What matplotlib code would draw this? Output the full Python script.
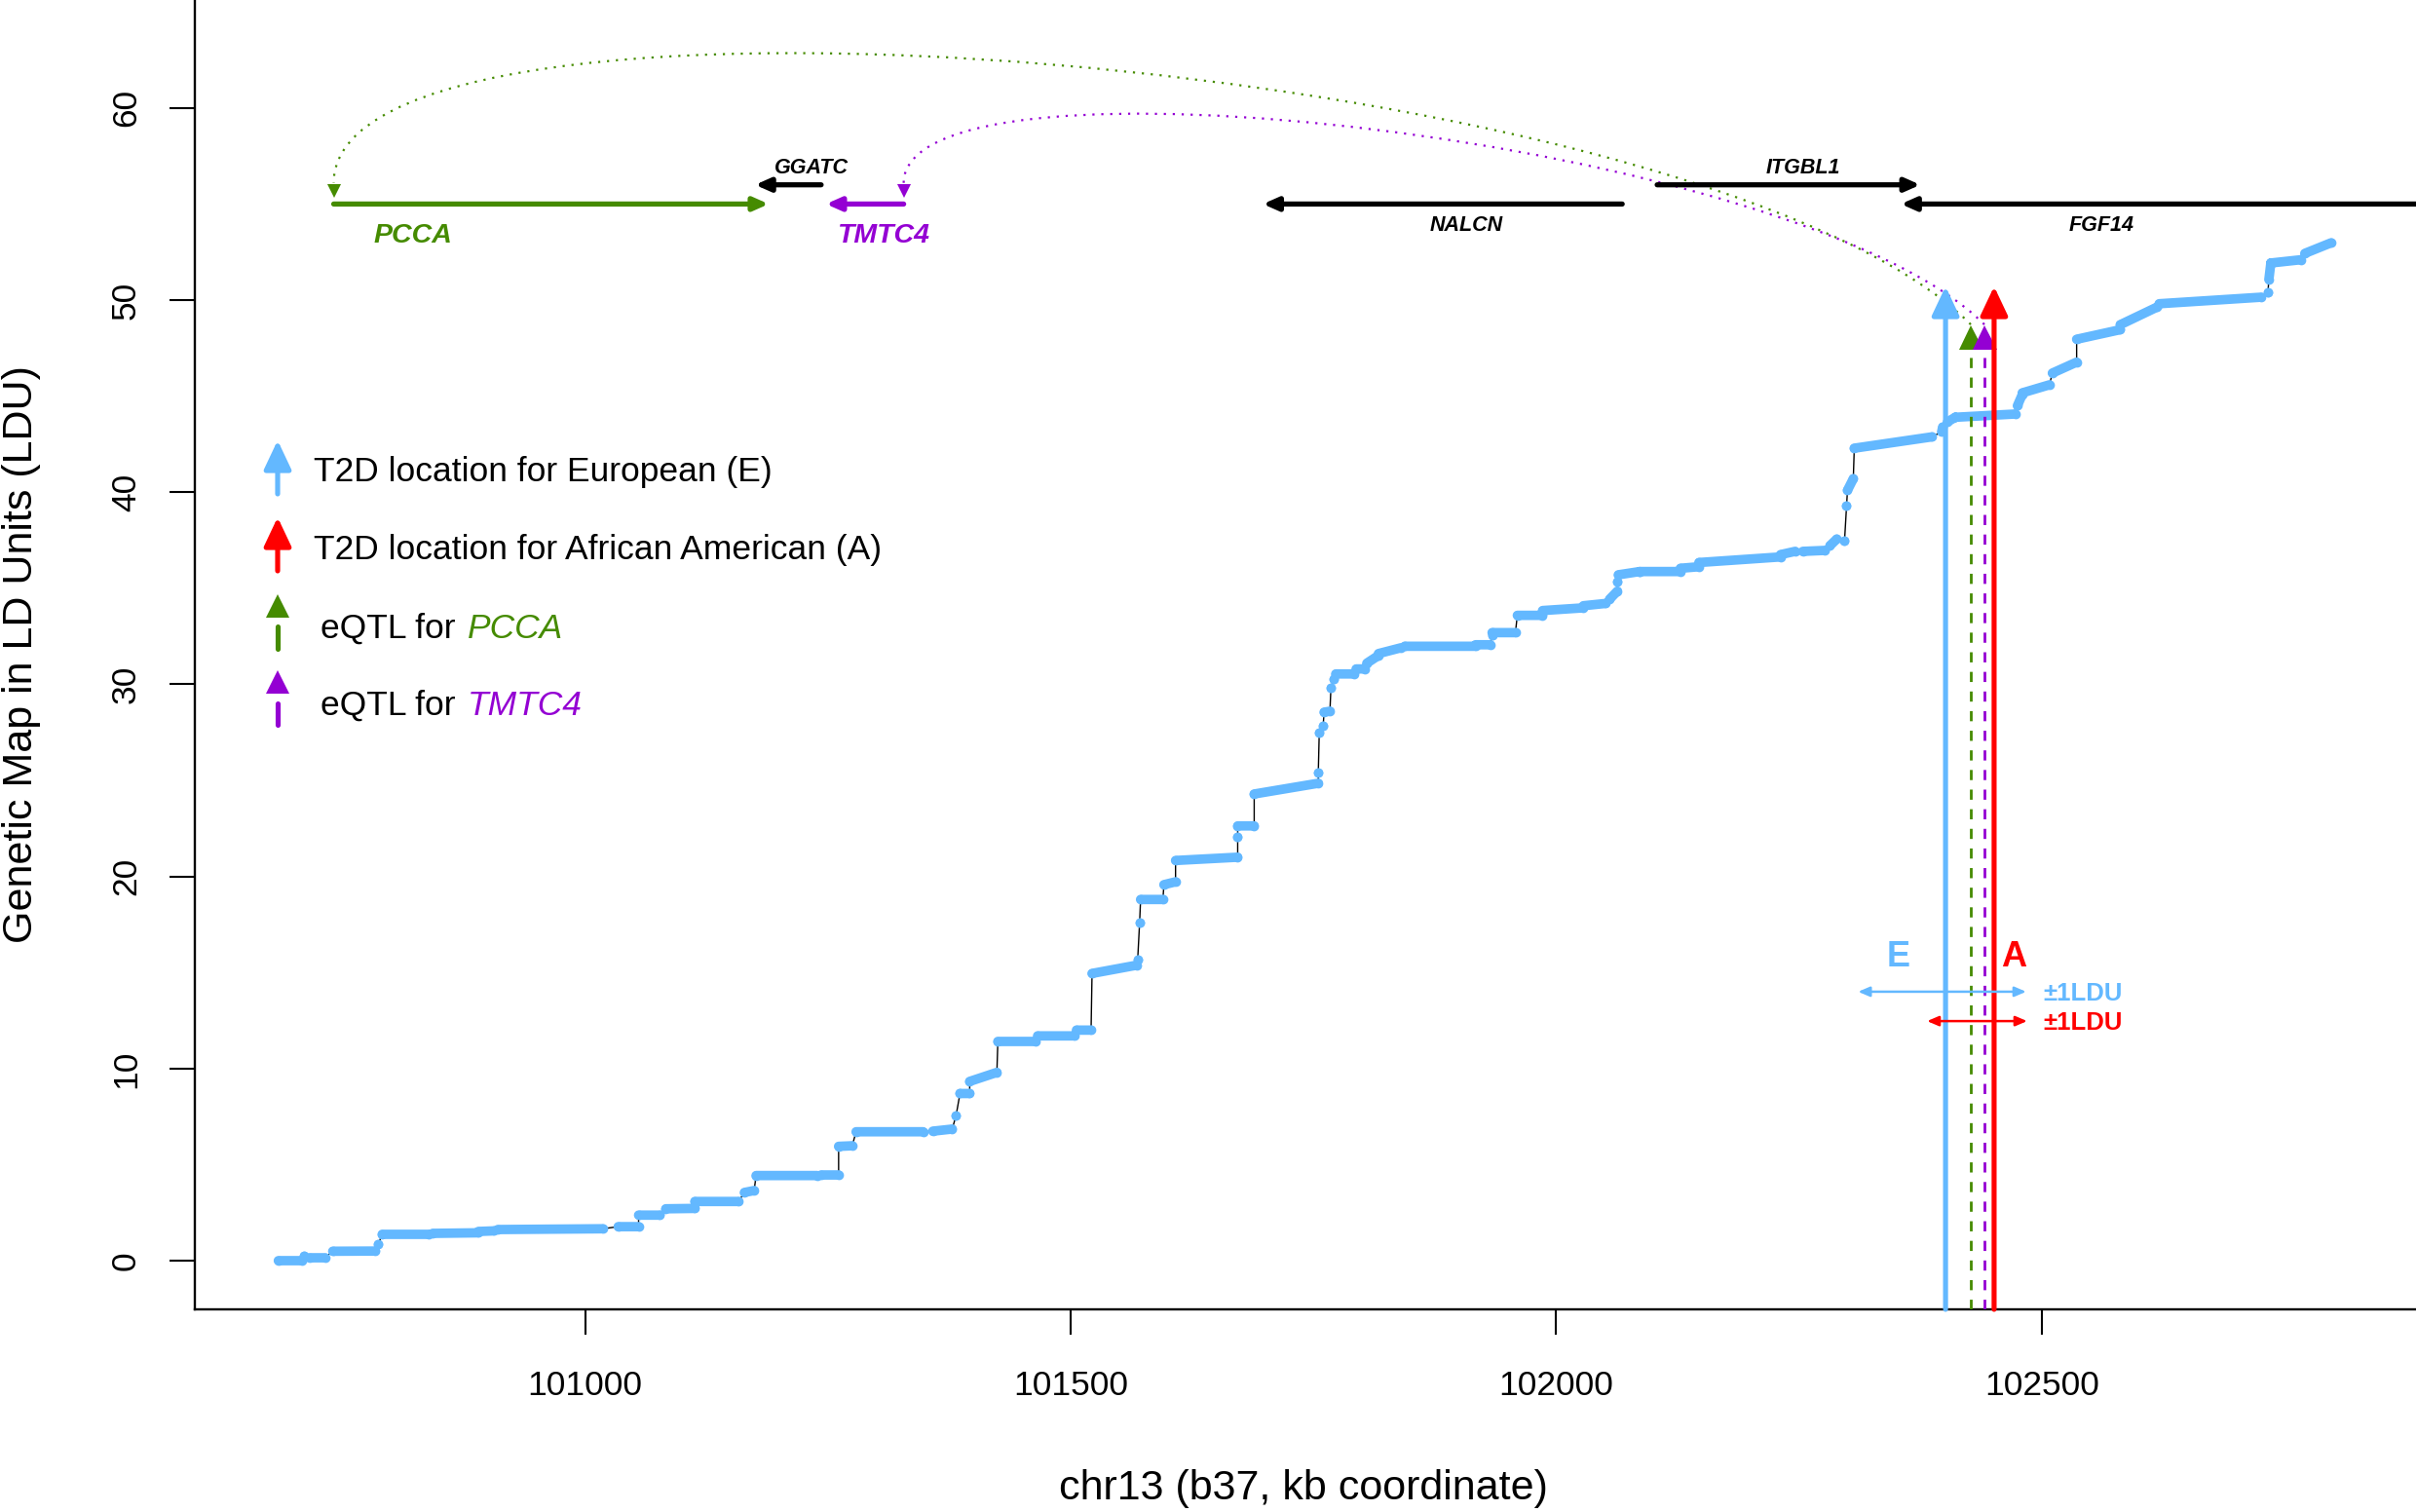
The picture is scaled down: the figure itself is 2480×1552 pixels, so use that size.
import numpy as np
import matplotlib
matplotlib.use('Agg')
import matplotlib.pyplot as plt
from matplotlib.path import Path
from matplotlib.patches import PathPatch
from matplotlib.lines import Line2D

plt.rcParams['font.family'] = ['Liberation Sans', 'DejaVu Sans']
plt.rcParams['lines.scale_dashes'] = False

# ---------------- data ----------------
# LD map: runs of dense SNPs (start kb, end kb, start LDU, end LDU)
seg_x0 = [100684, 100710, 100716, 100740, 100787, 100791, 100843, 100890, 100910, 101034,
          101055, 101083, 101113, 101164, 101176, 101243, 101261, 101279, 101358, 101382,
          101386, 101396, 101425, 101466, 101506, 101522, 101569, 101571, 101572, 101596,
          101608, 101672, 101672, 101689, 101755, 101756, 101760, 101761, 101768, 101771,
          101773, 101794, 101805, 101817, 101844, 101917, 101934, 101934, 101960, 101986,
          102028, 102055, 102063, 102064, 102086, 102128, 102147, 102231, 102254, 102282,
          102297, 102299, 102300, 102307, 102397, 102403, 102411, 102475, 102480, 102511,
          102536, 102581, 102621, 102733, 102734, 102736, 102771]
seg_x1 = [100708, 100710, 100732, 100784, 100787, 100839, 100890, 100906, 101018, 101055,
          101077, 101113, 101158, 101174, 101239, 101261, 101275, 101348, 101378, 101382,
          101396, 101424, 101464, 101504, 101521, 101568, 101569, 101571, 101595, 101608,
          101672, 101672, 101689, 101755, 101755, 101756, 101760, 101767, 101768, 101771,
          101792, 101803, 101817, 101840, 101917, 101932, 101934, 101958, 101986, 102028,
          102051, 102063, 102063, 102086, 102128, 102147, 102231, 102246, 102277, 102289,
          102297, 102299, 102306, 102387, 102398, 102411, 102473, 102480, 102508, 102536,
          102581, 102619, 102726, 102733, 102736, 102767, 102798]
seg_y0 = [0.00, 0.24, 0.15, 0.49, 0.88, 1.37, 1.42, 1.52, 1.62, 1.77,
          2.37, 2.70, 3.08, 3.55, 4.43, 4.46, 5.95, 6.71, 6.74, 7.56,
          8.70, 9.33, 11.41, 11.70, 12.00, 14.95, 15.67, 17.61, 18.80, 19.57,
          20.83, 22.04, 22.63, 24.29, 25.39, 27.50, 27.84, 28.55, 29.80, 30.29,
          30.54, 30.80, 31.10, 31.60, 31.98, 32.06, 32.57, 32.69, 33.59, 33.84,
          34.09, 34.43, 35.36, 35.70, 35.87, 36.04, 36.34, 36.75, 36.92, 37.22,
          37.50, 39.30, 40.10, 42.29, 43.14, 43.66, 43.90, 44.50, 45.17, 46.20,
          47.96, 48.72, 49.81, 50.41, 51.08, 51.93, 52.43]
seg_y1 = [0.00, 0.24, 0.15, 0.50, 0.88, 1.37, 1.45, 1.55, 1.66, 1.77,
          2.37, 2.72, 3.08, 3.65, 4.43, 4.46, 5.98, 6.71, 6.85, 7.56,
          8.70, 9.80, 11.41, 11.70, 12.00, 15.38, 15.67, 17.61, 18.80, 19.72,
          21.00, 22.04, 22.63, 24.85, 25.39, 27.50, 27.84, 28.60, 29.80, 30.29,
          30.54, 30.80, 31.50, 31.90, 31.98, 32.06, 32.57, 32.69, 33.59, 33.98,
          34.21, 34.85, 35.36, 35.87, 35.87, 36.12, 36.63, 36.92, 36.97, 37.56,
          37.50, 39.30, 40.70, 42.88, 43.39, 43.90, 44.07, 45.08, 45.59, 46.77,
          48.46, 49.64, 50.15, 50.41, 51.93, 52.10, 52.98]

# genes (kb)
gene_names  = ['PCCA', 'GGATC', 'TMTC4', 'NALCN', 'ITGBL1', 'FGF14']
gene_start  = [100741, 101175, 101248, 101698, 102104, 102355]
gene_end    = [101189, 101243, 101328, 102068, 102375, 102900]
gene_strand = ['+', '-', '-', '-', '+', '-']
gene_row    = [55.0, 56.0, 55.0, 55.0, 56.0, 55.0]
label_x     = [100823, 101233, 101308, 101907, 102254, 102562]
label_y     = [52.99, 56.59, 52.99, 53.6, 56.59, 53.6]

# association / eQTL locations (kb)
t2d_E = 102401
t2d_A = 102451
eqtl_PCCA = 102427
eqtl_TMTC4 = 102441
# +/- 1 LDU intervals (kb)
E_interval = (102311, 102484)
A_interval = (102382, 102485)

x_ticks = [101000, 101500, 102000, 102500]
y_ticks = [0, 10, 20, 30, 40, 50, 60]

legend_labels = ['T2D location for European (E)', 'T2D location for African American (A)',
                 'eQTL for', 'eQTL for']

# ---------------- style ----------------
BLUE = '#63B8FF'
RED = '#FF0000'
GREEN = '#458B00'
PURPLE = '#9400D3'
gene_colors = [GREEN, 'black', PURPLE, 'black', 'black', 'black']
gene_fs = [20.5, 15.5, 20.5, 15.5, 15.5, 15.5]

W, H = 2480, 1552
fig = plt.figure(figsize=(W / 100, H / 100), dpi=100)
ax = fig.add_axes([200 / W, 208 / H, 2280 / W, 1344 / H])
ylo, yhi = -2.535, 65.62
ax.set_xlim(100598, 102885.5)
ax.set_ylim(ylo, yhi)
for s in ['top', 'right']:
    ax.spines[s].set_visible(False)
for s in ['left', 'bottom']:
    ax.spines[s].set_linewidth(1.7)
ax.set_xticks(x_ticks)
ax.set_xticklabels([str(t) for t in x_ticks])
ax.set_yticks(y_ticks)
ax.set_yticklabels([str(t) for t in y_ticks])
ax.tick_params(axis='both', length=19, width=1.5, labelsize=25.5)
ax.tick_params(axis='x', pad=26)
ax.tick_params(axis='y', pad=20, labelrotation=90)
for lab in ax.get_yticklabels():
    lab.set_va('center')

fig.text(1338 / W, 1 - 1528 / H, 'chr13 (b37, kb coordinate)', ha='center', va='center', fontsize=31)
fig.text(22 / W, 1 - 672 / H, 'Genetic Map in LD Units (LDU)', ha='center', va='center',
         rotation=90, fontsize=31)

# ---------------- LD map curve ----------------
xs = np.column_stack([seg_x0, seg_x1]).ravel()
ys = np.column_stack([seg_y0, seg_y1]).ravel()
ax.plot(xs, ys, color='black', lw=1.0, zorder=2)
nanc = np.full(len(seg_x0), np.nan)
bx = np.column_stack([seg_x0, seg_x1, nanc]).ravel()
by = np.column_stack([seg_y0, seg_y1, nanc]).ravel()
ax.plot(bx, by, color=BLUE, lw=7, solid_capstyle='round', zorder=3)
ax.plot(np.r_[seg_x0, seg_x1], np.r_[seg_y0, seg_y1], 'o', color=BLUE, ms=7, mew=0, zorder=3)

# ---------------- genes ----------------
for name, s, e, strand, row, lx, ly, col, fs in zip(gene_names, gene_start, gene_end, gene_strand,
                                                    gene_row, label_x, label_y, gene_colors, gene_fs):
    tail, tip = (s, e) if strand == '+' else (e, s)
    ax.annotate('', xy=(tip, row), xytext=(tail, row),
                arrowprops=dict(arrowstyle='-|>,head_length=9,head_width=4', mutation_scale=1,
                                lw=3.8, color=col, shrinkA=0, shrinkB=0),
                annotation_clip=False, zorder=5)
    ax.text(lx, ly, name, ha='center', va='baseline', fontsize=fs, fontweight='bold',
            style='italic', color=col, zorder=5)

# ---------------- eQTL -> gene arcs ----------------
def arc(x0, y0, x3, y3, h0x, h0y, h3y, color):
    verts = [(x0, y0), (x0 + h0x, y0 + h0y), (x3, y3 + h3y), (x3, y3)]
    path = Path(verts, [Path.MOVETO, Path.CURVE4, Path.CURVE4, Path.CURVE4])
    ax.add_patch(PathPatch(path, fill=False, edgecolor=color, lw=1.6,
                           linestyle=(0, (1.6, 5)), zorder=4))
    ax.plot(x3, y3 - 0.39, marker='v', ms=10, color=color, mew=0, zorder=4)

arc(eqtl_PCCA, 48.73, gene_start[0], 56.09, -276, 13.95, 12.32, GREEN)
arc(eqtl_TMTC4, 48.73, gene_end[2], 56.09, -190.6, 9.63, 7.61, PURPLE)

# ---------------- eQTL markers ----------------
for xv, col in [(eqtl_PCCA, GREEN), (eqtl_TMTC4, PURPLE)]:
    ax.plot([xv, xv], [ylo, 47.45], color=col, lw=2.0, linestyle=(0, (7.5, 7)), zorder=6)
    ax.plot(xv, 48.05, marker='^', ms=18, color=col, mew=0, zorder=6)

# ---------------- T2D arrows ----------------
for xv, col in [(t2d_E, BLUE), (t2d_A, RED)]:
    ax.annotate('', xy=(xv, 50.71), xytext=(xv, ylo),
                arrowprops=dict(arrowstyle='-|>,head_length=18,head_width=8.5', mutation_scale=1,
                                lw=3.7, color=col, shrinkA=0, shrinkB=0), zorder=7)

# +/- 1 LDU intervals
for (lo, hi), yv, col in [(E_interval, 14.0, BLUE), (A_interval, 12.47, RED)]:
    ax.annotate('', xy=(lo, yv), xytext=(hi, yv),
                arrowprops=dict(arrowstyle='<|-|>,head_length=7,head_width=3', mutation_scale=1,
                                lw=1.8, color=col, shrinkA=0, shrinkB=0), zorder=8)
ax.text(102352, 15.33, 'E', ha='center', va='baseline', fontsize=26, fontweight='bold', color=BLUE)
ax.text(102471.5, 15.33, 'A', ha='center', va='baseline', fontsize=26, fontweight='bold', color=RED)
ax.text(102501.5, 13.52, '±1LDU', ha='left', va='baseline', fontsize=18.5, fontweight='bold', color=BLUE)
ax.text(102501.5, 12.03, '±1LDU', ha='left', va='baseline', fontsize=18.5, fontweight='bold', color=RED)

# ---------------- legend ----------------
lx = 285
for (tip, tail), col in [((452, 507), BLUE), ((531, 586), RED)]:
    ax.annotate('', xy=(lx, H - tip), xytext=(lx, H - tail), xycoords='figure pixels',
                textcoords='figure pixels',
                arrowprops=dict(arrowstyle='-|>,head_length=18,head_width=8.5', mutation_scale=1,
                                lw=3.7, color=col, shrinkA=0, shrinkB=0))
for (hc, d0, d1), col in [((621.5, 643, 666), GREEN), ((700, 722, 744), PURPLE)]:
    fig.add_artist(Line2D([lx / W, lx / W], [1 - d0 / H, 1 - d1 / H], transform=fig.transFigure,
                          color=col, lw=3.7, solid_capstyle='round'))
    fig.add_artist(Line2D([lx / W], [1 - hc / H], transform=fig.transFigure, marker='^',
                          ms=17, color=col, mew=0, linestyle='none'))

fig.text(322 / W, 1 - 494 / H, legend_labels[0], ha='left', va='baseline', fontsize=25.5)
fig.text(322 / W, 1 - 574 / H, legend_labels[1], ha='left', va='baseline', fontsize=25.5)
t3 = fig.text(329 / W, 1 - 655 / H, legend_labels[2], ha='left', va='baseline', fontsize=25.5)
t4 = fig.text(329 / W, 1 - 734 / H, legend_labels[3], ha='left', va='baseline', fontsize=25.5)
for t, name, col in [(t3, 'PCCA', GREEN), (t4, 'TMTC4', PURPLE)]:
    ax.annotate(name, xy=(1, 0), xycoords=t, xytext=(9, 0), textcoords='offset points',
                ha='left', va='bottom', fontsize=25.5, style='italic', color=col)

fig.savefig('out.png', dpi=100)
